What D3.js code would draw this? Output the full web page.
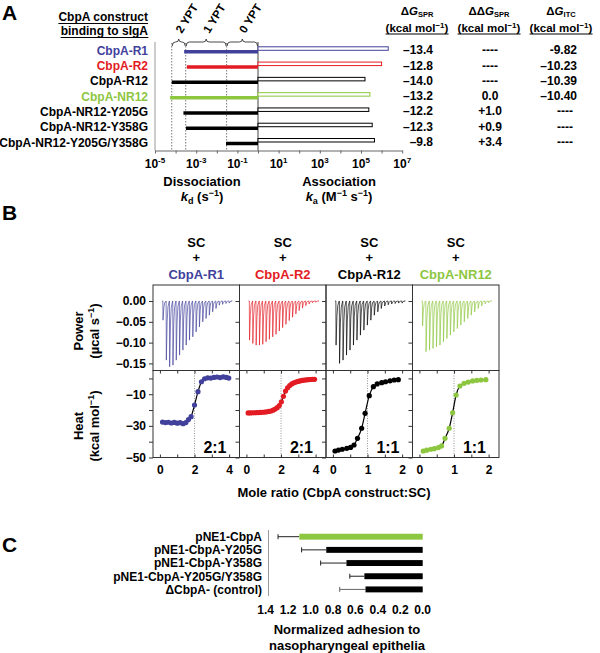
<!DOCTYPE html>
<html>
<head>
<meta charset="utf-8">
<script src="https://cdn.jsdelivr.net/npm/d3@7"></script>
<style>
  html,body{margin:0;padding:0;background:#fff;}
  svg text{font-family:"Liberation Sans",Arial,Helvetica,sans-serif;font-weight:bold;}
</style>
</head>
<body>
<svg id="chart" width="600" height="653"></svg>
<script>
// ---------------- Panel A data (SPR) ----------------
const spcConstructs = ["CbpA-R1","CbpA-R2","CbpA-R12","CbpA-NR12","CbpA-NR12-Y205G","CbpA-NR12-Y358G","CbpA-NR12-Y205G/Y358G"];
const kdValues = [2.6e-4, 3.5e-4, 6.5e-5, 5.4e-5, 2.4e-4, 3.2e-4, 2.8e-2];   // s^-1
const kaValues = [2.1e6, 1.0e6, 1.56e5, 2.7e5, 2.4e5, 3.5e5, 4.5e5];          // M^-1 s^-1
const dGspr  = ["–13.4","–12.8","–14.0","–13.2","–12.2","–12.3","–9.8"];
const ddGspr = ["----","----","----","0.0","+1.0","+0.9","+3.4"];
const dGitc  = ["-9.82","–10.23","–10.39","–10.40","----","----","----"];
const yptBounds = [6.5e-5, 3.1e-4, 3.0e-2, 1];
const yptLabels = ["2 YPT","1 YPT","0 YPT"];
const rateTickExps = [-5,-3,-1,1,3,5,7];

// ---------------- Panel B data (ITC) ----------------
const itcConstructs = ["CbpA-R1","CbpA-R2","CbpA-R12","CbpA-NR12"];
const itcStoich = ["2:1","2:1","1:1","1:1"];
const itcEquivalence = [2,2,1,1];
const moleRatioMax = [4,4,2,2];
const powerTicks = [0,-0.05,-0.10,-0.15];
const heatTicks = [-50,-40,-30,-20,-10,0];
const heatLabelTicks = [-10,-30,-50];
// injection peak minima (µcal/s)
const powerR1   = [-0.046,-0.142,-0.158,-0.154,-0.142,-0.130,-0.118,-0.106,-0.094,-0.086,-0.074,-0.062,-0.050,-0.042,-0.034,-0.026,-0.018,-0.010,-0.008,-0.006,-0.005];
const powerR2   = [-0.094,-0.102,-0.106,-0.106,-0.104,-0.098,-0.092,-0.086,-0.080,-0.072,-0.064,-0.056,-0.047,-0.039,-0.031,-0.023,-0.017,-0.011,-0.007,-0.004,-0.003];
const powerR12  = [-0.106,-0.150,-0.142,-0.130,-0.118,-0.106,-0.094,-0.082,-0.070,-0.058,-0.046,-0.034,-0.026,-0.018,-0.012,-0.009,-0.007,-0.006,-0.005,-0.005];
const powerNR12 = [-0.060,-0.122,-0.118,-0.114,-0.110,-0.106,-0.098,-0.090,-0.082,-0.074,-0.066,-0.058,-0.050,-0.042,-0.034,-0.026,-0.018,-0.012,-0.007,-0.004];
// integrated heats (kcal/mol) vs mole ratio
const heatR1Ratio = [0.15,0.32,0.49,0.66,0.83,1.0,1.17,1.34,1.5,1.65,1.8,2.0,2.2,2.4,2.58,2.76,2.94,3.12,3.3,3.48,3.66,3.84,3.98];
const heatR1      = [-27.6,-27.9,-27.7,-28.2,-27.8,-28.3,-28.0,-28.6,-27.9,-26.0,-24.2,-16.8,-8.4,-2.1,-0.2,0.4,0.2,0.6,0.9,0.5,1.0,0.6,0.2];
const heatR2Ratio = [0.10,0.22,0.34,0.46,0.58,0.70,0.82,0.94,1.06,1.18,1.30,1.42,1.54,1.66,1.78,1.90,2.02,2.14,2.26,2.38,2.50,2.62,2.74,2.86,2.98,3.10,3.22,3.34,3.46,3.58,3.70,3.82,3.94];
const heatR2      = [-21.8,-21.8,-21.7,-21.7,-21.6,-21.6,-21.5,-21.4,-21.3,-21.1,-20.9,-20.6,-20.1,-19.4,-18.5,-17.2,-14.8,-11.3,-8.0,-5.9,-4.5,-3.5,-2.8,-2.3,-1.9,-1.6,-1.3,-1.1,-0.9,-0.8,-0.7,-0.6,-0.6];
const heatR12Ratio = [0.06,0.16,0.27,0.40,0.51,0.61,0.71,0.83,0.93,1.05,1.17,1.28,1.41,1.52,1.65,1.77,1.89];
const heatR12      = [-45.9,-45.3,-44.8,-44.2,-43.6,-42.1,-37.9,-31.5,-22.1,-10.9,-5.2,-3.5,-2.7,-2.1,-1.5,-1.0,-0.8];
const heatNR12Ratio = [0.11,0.21,0.33,0.43,0.55,0.64,0.74,0.86,0.96,1.06,1.17,1.29,1.41,1.54,1.66,1.78,1.92];
const heatNR12      = [-45.9,-45.4,-44.8,-44.4,-43.7,-42.7,-37.9,-31.5,-21.7,-10.5,-4.8,-3.1,-2.3,-1.6,-1.2,-1.0,-0.8];

// ---------------- Panel C data (adhesion) ----------------
const adhesionLabels = ["pNE1-CbpA","pNE1-CbpA-Y205G","pNE1-CbpA-Y358G","pNE1-CbpA-Y205G/Y358G","ΔCbpA- (control)"];
const adhesionMeans  = [1.10, 0.86, 0.68, 0.52, 0.51];
const adhesionErrors = [0.19, 0.22, 0.23, 0.13, 0.23];
const adhesionTicks  = [1.4,1.2,1.0,0.8,0.6,0.4,0.2,0.0];

// ---------------- drawing ----------------
const svg = d3.select("#chart");
const colorOf = name => ({"CbpA-R1":"#41419c","CbpA-R2":"#e31b23","CbpA-NR12":"#8dc63f"}[name] || "#000");

function underline(sel, dy) {
  const bb = sel.node().getBBox();
  const y = +sel.attr("y") + dy;
  svg.append("line").attr("x1",bb.x).attr("x2",bb.x+bb.width).attr("y1",y).attr("y2",y)
    .attr("stroke","#000").attr("stroke-width",1);
}

[["A",2,20],["B",2,220],["C",2,552]].forEach(([t,x,y]) =>
  svg.append("text").attr("x",x).attr("y",y).attr("font-size",21).text(t));

// ===== Panel A =====
const gA = svg.append("g");
const xA = d3.scaleLog().domain([1e-5,1e7]).range([155,402.2]);
const yA = d3.scalePoint().domain(spcConstructs).range([51.3,143]);
const axisYA = 150.5;

gA.append("line").attr("x1",155).attr("x2",155).attr("y1",42).attr("y2",axisYA).attr("stroke","#999");
gA.append("g").attr("transform",`translate(0,${axisYA})`)
  .call(d3.axisBottom(xA).tickValues(d3.range(-5,8).map(e=>Math.pow(10,e))).tickSize(3).tickSizeOuter(0).tickFormat(""))
  .call(g=>g.selectAll("path,line").attr("stroke","#666"));

rateTickExps.forEach(e => {
  const t = gA.append("text").attr("x",xA(Math.pow(10,e))).attr("y",168).attr("text-anchor","middle").attr("font-size",12);
  t.append("tspan").text("10");
  t.append("tspan").attr("dy",-5).attr("font-size",8).text(String(e));
});

// YPT guide lines
yptBounds.slice(0,3).forEach(v =>
  gA.append("line").attr("x1",xA(v)).attr("x2",xA(v)).attr("y1",43).attr("y2",axisYA)
    .attr("stroke","#555").attr("stroke-width",0.8).attr("stroke-dasharray","1.5,1.5"));
gA.append("line").attr("x1",xA(1)).attr("x2",xA(1)).attr("y1",42).attr("y2",axisYA).attr("stroke","#444");

yptLabels.forEach((lab,i) => {
  const x0 = xA(yptBounds[i])+0.5, x1 = xA(yptBounds[i+1])-0.5, xm = (x0+x1)/2, y = 42;
  const p = `M${x0},${y+4} Q${x0},${y} ${x0+3},${y} L${xm-3},${y} Q${xm},${y} ${xm},${y-3} Q${xm},${y} ${xm+3},${y} L${x1-3},${y} Q${x1},${y} ${x1},${y+4}`;
  gA.append("path").attr("d",p).attr("fill","none").attr("stroke","#333").attr("stroke-width",0.9);
  gA.append("text").attr("transform",`translate(${xm+3},34) rotate(-58)`).attr("font-size",11.5).text(lab);
});

// header
const h1 = svg.append("text").attr("x",148).attr("y",21).attr("text-anchor","end").attr("font-size",12).text("CbpA construct");
underline(h1,2.5);
const h2 = svg.append("text").attr("x",148).attr("y",35).attr("text-anchor","end").attr("font-size",12).text("binding to sIgA");
underline(h2,2.5);

spcConstructs.forEach((name,i) => {
  const y = yA(name), c = colorOf(name);
  gA.append("line").attr("x1",xA(kdValues[i])).attr("x2",xA(1)).attr("y1",y+0.5).attr("y2",y+0.5)
    .attr("stroke",c).attr("stroke-width",3.5);
  gA.append("rect").attr("x",xA(1)).attr("y",y-4.5).attr("width",xA(kaValues[i])-xA(1)).attr("height",3.5)
    .attr("fill","#fff").attr("stroke",c).attr("stroke-width",1);
  gA.append("text").attr("x",148).attr("y",y+3.5).attr("text-anchor","end").attr("font-size",12).attr("fill",c).text(name);
  gA.append("text").attr("x",433).attr("y",y+3).attr("text-anchor","end").attr("font-size",12).text(dGspr[i]);
  gA.append("text").attr("x",490).attr("y",y+3).attr("text-anchor","middle").attr("font-size",12).text(ddGspr[i]);
  const itc = dGitc[i];
  gA.append("text").attr("x", itc==="----"?565:577).attr("y",y+3)
    .attr("text-anchor", itc==="----"?"middle":"end").attr("font-size",12).text(itc);
});

// table headers
[["ΔG","SPR",417],["ΔΔG","SPR",489],["ΔG","ITC",561]].forEach(([pre,sub,cx]) => {
  const t = svg.append("text").attr("x",cx).attr("y",14.5).attr("text-anchor","middle").attr("font-size",11.5);
  t.append("tspan").text(pre.slice(0,-1));
  t.append("tspan").attr("font-style","italic").text("G");
  t.append("tspan").attr("dy",2.5).attr("font-size",7.5).text(sub);
  const u = svg.append("text").attr("x",cx).attr("y",31.5).attr("text-anchor","middle").attr("font-size",11.5);
  u.append("tspan").text("(kcal mol");
  u.append("tspan").attr("dy",-4).attr("font-size",8).text("−1");
  u.append("tspan").attr("dy",4).text(")");
  underline(u,2.5);
});

// axis titles A
function rateTitle(cx, word, sym, sub, unitParts) {
  svg.append("text").attr("x",cx).attr("y",186).attr("text-anchor","middle").attr("font-size",13).text(word);
  const t = svg.append("text").attr("x",cx).attr("y",201).attr("text-anchor","middle").attr("font-size",13);
  t.append("tspan").attr("font-style","italic").text(sym);
  t.append("tspan").attr("dy",3).attr("font-size",9).text(sub);
  unitParts.forEach((p,k) => {
    const isSup = k%2===1;
    t.append("tspan").attr("dy", k===0 ? -3 : (isSup?-5:5)).attr("font-size", isSup?9:13).text(p);
  });
}
rateTitle(202,"Dissociation","k","d",[" (s","−1",")"]);
rateTitle(339,"Association","k","a",[" (M","−1"," s","−1",")"]);

// ===== Panel B =====
const gB = svg.append("g");
const colW = 86.5, bx0 = 153, pTop = 285, pMid = 370.5, pBot = 457.5;
const yP = d3.scaleLinear().domain([-0.167,0.0385]).range([pMid,pTop]);
const yH = d3.scaleLinear().domain([-50,5]).range([pBot,pMid]);
const powerData = [powerR1,powerR2,powerR12,powerNR12];
const heatRatios = [heatR1Ratio,heatR2Ratio,heatR12Ratio,heatNR12Ratio];
const heatVals = [heatR1,heatR2,heatR12,heatNR12];

function styleAxis(g){
  g.select(".domain").remove();
  g.selectAll("line").attr("stroke","#333");
  g.selectAll("text").attr("font-size",12).attr("fill","#000");
}

itcConstructs.forEach((name,i) => {
  const left = bx0 + i*colW, right = left + colW, cx = (left+right)/2, c = colorOf(name);
  gB.append("text").attr("x",cx).attr("y",247).attr("text-anchor","middle").attr("font-size",13).text("SC");
  gB.append("text").attr("x",cx).attr("y",262).attr("text-anchor","middle").attr("font-size",13).text("+");
  gB.append("text").attr("x",cx).attr("y",279).attr("text-anchor","middle").attr("font-size",13).attr("fill",c).text(name);

  // thermogram
  const peaks = powerData[i];
  const xT = d3.scaleLinear().domain([0,peaks.length]).range([left+9,right-8]);
  const pts = [[0,0]];
  peaks.forEach((p,k) => { const t = k+0.25; pts.push([t,0],[t+0.06,p],[t+0.3,p*0.35],[t+0.55,p*0.1],[t+0.95,0]); });
  pts.push([peaks.length,0]);
  gB.append("path").datum(pts).attr("d",d3.line().x(d=>xT(d[0])).y(d=>yP(d[1])))
    .attr("fill","none").attr("stroke",c).attr("stroke-width",0.75).attr("stroke-opacity",0.9);

  // heat
  const maxR = moleRatioMax[i];
  const xH = d3.scaleLinear().domain([-0.1*maxR,1.15*maxR]).range([left,right]);
  gB.append("line").attr("x1",xH(itcEquivalence[i])).attr("x2",xH(itcEquivalence[i])).attr("y1",pMid).attr("y2",pBot)
    .attr("stroke","#777").attr("stroke-width",0.8).attr("stroke-dasharray","1,1.5");
  const pts2 = heatRatios[i].map((r,k)=>[r,heatVals[i][k]]);
  gB.append("path").datum(pts2).attr("d",d3.line().curve(d3.curveMonotoneX).x(d=>xH(d[0])).y(d=>yH(d[1])))
    .attr("fill","none").attr("stroke","#000").attr("stroke-width",1.2);
  gB.selectAll(null).data(pts2).enter().append("circle")
    .attr("cx",d=>xH(d[0])).attr("cy",d=>yH(d[1])).attr("r",2.6).attr("fill",c);

  gB.append("text").attr("x",right-13).attr("y",453).attr("text-anchor","end").attr("font-size",16)
    .attr("font-weight","bold").attr("fill","#000").text(itcStoich[i]);

  // frames
  gB.append("rect").attr("x",left).attr("y",pTop).attr("width",colW).attr("height",pMid-pTop).attr("fill","none").attr("stroke","#333");
  gB.append("rect").attr("x",left).attr("y",pMid).attr("width",colW).attr("height",pBot-pMid).attr("fill","none").attr("stroke","#333");

  // axes
  gB.append("g").attr("transform",`translate(${left},0)`)
    .call(d3.axisLeft(yP).tickValues(powerTicks).tickSize(4).tickFormat(i===0?d3.format(".2f"):()=>""))
    .call(styleAxis);
  gB.append("g").attr("transform",`translate(${left},0)`)
    .call(d3.axisLeft(yH).tickValues(heatTicks).tickSize(4).tickFormat(d => (i===0 && heatLabelTicks.includes(d)) ? d3.format("d")(d) : ""))
    .call(styleAxis);
  const step = maxR/4;
  const xt = d3.range(0,maxR+1e-9,step);
  gB.append("g").attr("transform",`translate(0,${pBot})`)
    .call(d3.axisBottom(xH).tickValues(xt).tickSize(-3).tickPadding(8)
      .tickFormat(d => Math.abs((d/(2*step)) - Math.round(d/(2*step)))<1e-9 ? d3.format("d")(d) : ""))
    .call(styleAxis);
  gB.append("g").attr("transform",`translate(0,${pMid})`)
    .call(d3.axisTop(xH).tickValues(xt).tickSize(-3).tickFormat(()=>""))
    .call(styleAxis);
});

function yTitle(x, cy, lines) {
  lines.forEach((parts,k) => {
    const t = svg.append("text").attr("transform",`translate(${x+k*16},${cy}) rotate(-90)`).attr("text-anchor","middle").attr("font-size",13);
    parts.forEach((p,j) => {
      const isSup = j%2===1;
      t.append("tspan").attr("dy", j===0?0:(isSup?-5:5)).attr("font-size",isSup?9:13).text(p);
    });
  });
}
yTitle(83,331,[["Power"],["(µcal  s","−1",")"]]);
yTitle(83,426,[["Heat"],["(kcal  mol","−1",")"]]);

svg.append("text").attr("x",334).attr("y",497).attr("text-anchor","middle").attr("font-size",13).text("Mole ratio (CbpA construct:SC)");

// ===== Panel C =====
const gC = svg.append("g");
const xC = d3.scaleLinear().domain([0,1.4]).range([422.7,265.7]);
const yC = d3.scaleBand().domain(adhesionLabels).range([530.1,596]).paddingInner(0.55).paddingOuter(0.275);
gC.append("line").attr("x1",268.5).attr("x2",268.5).attr("y1",530).attr("y2",596).attr("stroke","#999");
adhesionLabels.forEach((lab,i) => {
  const y = yC(lab), h = yC.bandwidth(), cy = y + h/2;
  const m = adhesionMeans[i], e = adhesionErrors[i];
  gC.append("line").attr("x1",xC(m)).attr("x2",xC(m+e)).attr("y1",cy).attr("y2",cy).attr("stroke", i===4?"#666":"#222").attr("stroke-width",1);
  gC.append("line").attr("x1",xC(m+e)).attr("x2",xC(m+e)).attr("y1",cy-2.5).attr("y2",cy+2.5).attr("stroke", i===4?"#666":"#222").attr("stroke-width",1);
  gC.append("rect").attr("x",xC(m)).attr("y",y).attr("width",xC(0)-xC(m)).attr("height",h)
    .attr("fill", i===0 ? "#8dc63f" : "#000");
  gC.append("text").attr("x",262).attr("y",cy+4.3).attr("text-anchor","end").attr("font-size",12).text(lab);
});
adhesionTicks.forEach(t =>
  gC.append("text").attr("x",xC(t)).attr("y",614).attr("text-anchor","middle").attr("font-size",12).text(d3.format(".1f")(t)));
gC.append("text").attr("x",347).attr("y",634).attr("text-anchor","middle").attr("font-size",13).text("Normalized adhesion to");
gC.append("text").attr("x",347).attr("y",650).attr("text-anchor","middle").attr("font-size",13).text("nasopharyngeal epithelia");
</script>
</body>
</html>
